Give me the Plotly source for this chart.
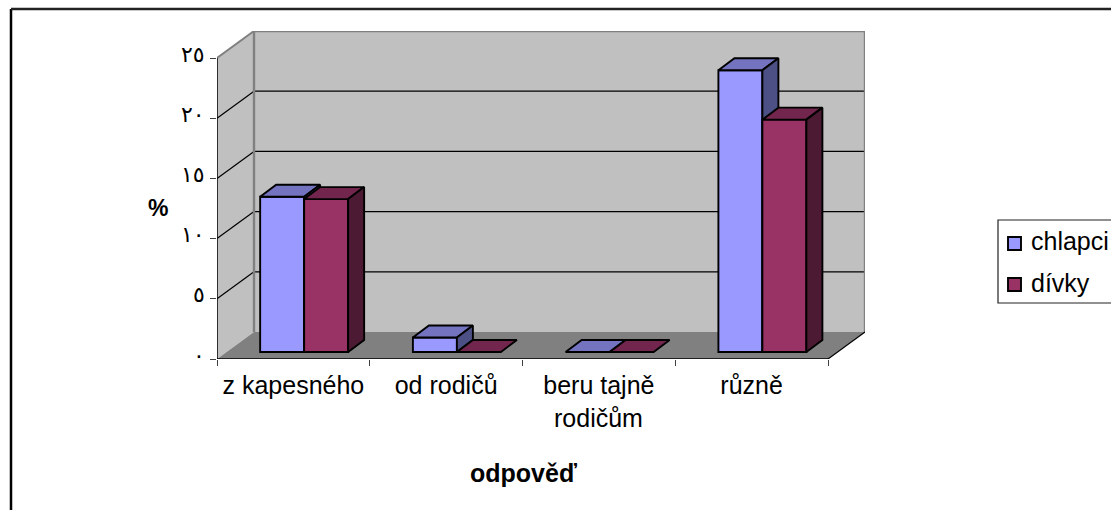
import plotly.graph_objects as go

categories = ["z kapesného", "od rodičů", "beru tajně\nrodičům", "různě"]
chlapci = [12.9, 1.2, 0, 23.4]
divky = [12.7, 0, 0, 19.3]
y_ticks = [0, 5, 10, 15, 20, 25]
y_labels = ["٠", "٥", "١٠", "١٥", "٢٠", "٢٥"]

W, H = 1111, 510
L, R, T, B = 217, 865, 31, 359      # plot rectangle in px
DX, DY = 37 / 152.75, 27 / 12.04    # wall depth in data units
XMAX, YMAX = 4 + DX, 25 + DY
BAR_DX, BAR_DY = 16 / 152.75, 12 / 12.04
BASE = 7 / 12.04
START, BW = 0.2825, 0.288
FONT = "Liberation Sans, Arial, sans-serif"
TXT = 25
EDGE = 1.9

def px(x): return (x - L) / (R - L)
def py(y): return (B - y) / (B - T)

BLACK = "#000000"
GREY = "#808080"
shapes = []
def poly(pts, fill):
    d = "M" + "L".join(f"{a},{b}" for a, b in pts) + "Z"
    shapes.append(dict(type="path", path=d, xref="x", yref="y", fillcolor=fill,
                       line=dict(width=0), layer="below"))
def seg(x0, y0, x1, y1, color=BLACK, w=1.2):
    shapes.append(dict(type="line", xref="x", yref="y", x0=x0, y0=y0, x1=x1, y1=y1,
                       line=dict(color=color, width=w), layer="below"))

poly([(DX, DY), (XMAX, DY), (XMAX, YMAX), (DX, YMAX)], "#C0C0C0")
poly([(0, 0), (DX, DY), (DX, YMAX), (0, 25)], "#C0C0C0")
poly([(0, 0), (4, 0), (XMAX, DY), (DX, DY)], GREY)
for v in y_ticks[1:-1]:
    seg(0, v, DX, v + DY)
    seg(DX, v + DY, XMAX, v + DY)
seg(DX, DY, DX, YMAX, GREY, 2.4)
seg(XMAX, DY, XMAX, YMAX, GREY, 2.4)
seg(DX, YMAX, XMAX, YMAX, GREY, 2.4)
seg(0, 25, DX, YMAX, GREY, 2)
seg(0, 0, 0, 25, BLACK, 1.5)
seg(0, 0, 4, 0, BLACK, 1.5)
seg(4, 0, XMAX, DY, BLACK, 1.2)

# outer frame (continues past the right and bottom edge of the window)
for x0, y0, x1, y1, col, w in [(11, 9, 11, H + 5, BLACK, 2.5), (11, 9, W + 5, 9, "#222222", 2.5)]:
    shapes.append(dict(type="line", xref="paper", yref="paper", x0=px(x0), y0=py(y0),
                       x1=px(x1), y1=py(y1), line=dict(color=col, width=w)))

fig = go.Figure()

def series(name, values, slot, front, top, side, xa, ya):
    xs = [i + START + slot * BW + BW / 2 for i in range(len(values))]
    fig.add_trace(go.Bar(name=name, x=xs, y=values, base=[BASE] * len(values), width=BW,
                         marker=dict(color=front, line=dict(color=BLACK, width=EDGE)),
                         xaxis=xa, yaxis=ya, showlegend=False))
    for x, v in zip(xs, values):
        x0, x1 = x - BW / 2, x + BW / 2
        y = BASE + v
        fig.add_trace(go.Scatter(
            x=[x0, x1, x1 + BAR_DX, x0 + BAR_DX, x0], y=[y, y, y + BAR_DY, y + BAR_DY, y],
            mode="lines", fill="toself", fillcolor=top, line=dict(color=BLACK, width=EDGE),
            xaxis=xa, yaxis=ya, showlegend=False, hoverinfo="skip"))
        if v > 0:
            fig.add_trace(go.Scatter(
                x=[x1, x1 + BAR_DX, x1 + BAR_DX, x1, x1],
                y=[y, y + BAR_DY, BASE + BAR_DY, BASE, y],
                mode="lines", fill="toself", fillcolor=side, line=dict(color=BLACK, width=EDGE),
                xaxis=xa, yaxis=ya, showlegend=False, hoverinfo="skip"))

series("chlapci", chlapci, 0, "#9999FF", "#7373BF", "#4D5085", "x", "y")
series("dívky", divky, 1, "#993366", "#73264D", "#4D1A33", "x2", "y2")

def label(x, y, text, size, xref="paper", yref="paper", xanchor="center", yshift=0, family=FONT):
    return dict(xref=xref, yref=yref, x=x, y=y, text=text, showarrow=False, xanchor=xanchor,
                yanchor="middle", yshift=yshift, font=dict(family=family, size=size, color=BLACK))

annotations = [
    label(px(158), py(208), "<b>%</b>", 23),
    label(px(523), py(473), "<b>odpověď</b>", 25),
]
for v, t in zip(y_ticks, y_labels):
    annotations.append(label(px(207), v, t, 22, yref="y", xanchor="right", yshift=4,
                             family="Liberation Sans, DejaVu Sans"))
first_lines = []
for i, c in enumerate(categories):
    parts = c.split("\n")
    first_lines.append(parts[0])
    for j, t in enumerate(parts[1:], 1):
        annotations.append(label(i + 0.5, py(387 + 31 * j), t, TXT, xref="x"))

# legend box
shapes.append(dict(type="rect", xref="paper", yref="paper", x0=px(998), y0=py(220), x1=px(W + 5), y1=py(303),
                   fillcolor="#FFFFFF", line=dict(color="#222222", width=1.2)))
for name, col, yc, yt in [("chlapci", "#9999FF", 243, 241), ("dívky", "#993366", 284, 283)]:
    shapes.append(dict(type="rect", xref="paper", yref="paper", x0=px(1008), y0=py(yc - 6), x1=px(1021), y1=py(yc + 7),
                       fillcolor=col, line=dict(color=BLACK, width=EDGE)))
    annotations.append(label(px(1029), py(yt), name, TXT, xanchor="left"))

axis_common = dict(showgrid=False, zeroline=False)
fig.update_layout(
    width=W, height=H, margin=dict(l=L, r=W - R, t=T, b=H - B),
    paper_bgcolor="#FFFFFF", plot_bgcolor="#FFFFFF", barmode="overlay", showlegend=False,
    shapes=shapes, annotations=annotations,
    xaxis=dict(range=[0, XMAX], tickmode="array", tickvals=[i + 0.5 for i in range(4)], ticktext=first_lines,
               ticks="", ticklabelstandoff=9, tickfont=dict(family=FONT, size=TXT, color=BLACK), showline=False,
               minor=dict(tickmode="array", tickvals=list(range(5)), ticks="outside", ticklen=6,
                          tickcolor="#404040", tickwidth=1.2), **axis_common),
    yaxis=dict(range=[0, YMAX], tickmode="array", tickvals=y_ticks, showticklabels=False, ticks="outside",
               ticklen=6, tickcolor="#404040", tickwidth=1.2, showline=False, **axis_common),
    xaxis2=dict(range=[0, XMAX], overlaying="x", visible=False, **axis_common),
    yaxis2=dict(range=[0, YMAX], overlaying="y", visible=False, **axis_common),
)
fig.write_html("out.html", config={"displayModeBar": False},
               post_script="document.body.style.margin='0';document.body.style.overflow='hidden';")
